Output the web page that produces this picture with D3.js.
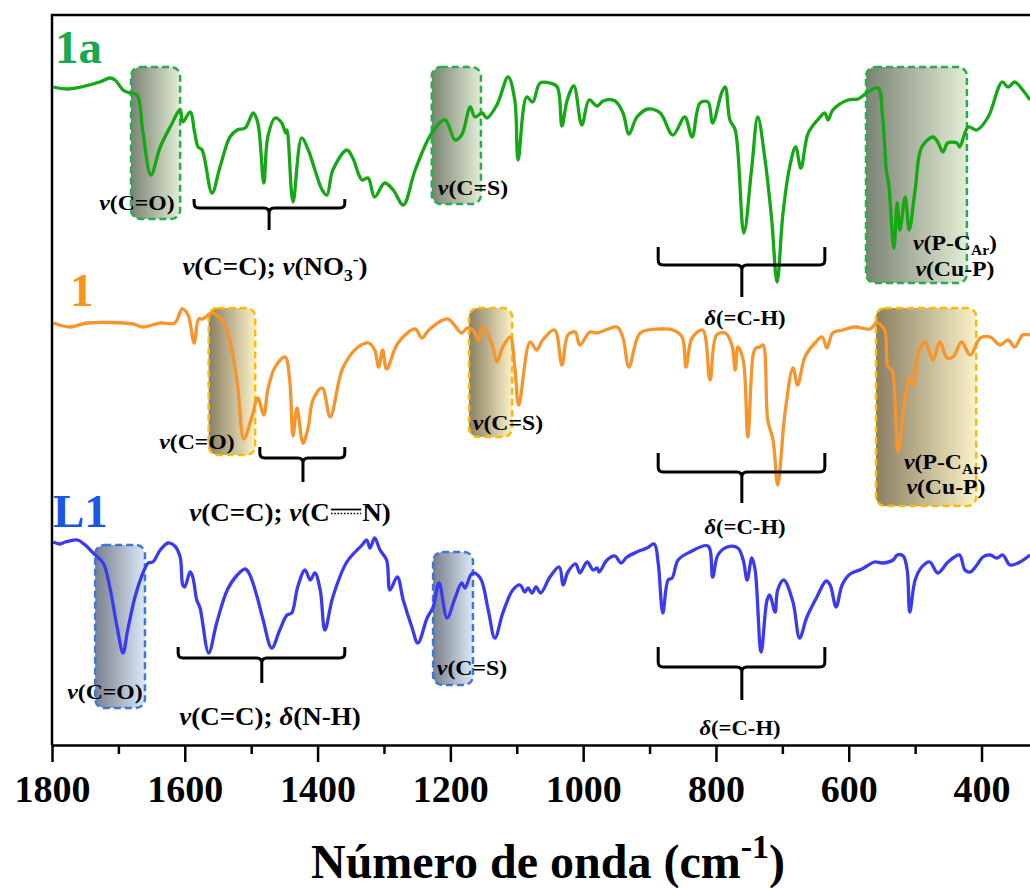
<!DOCTYPE html>
<html>
<head>
<meta charset="utf-8">
<script src="https://cdn.jsdelivr.net/npm/d3@7"></script>
<style>
  body { margin: 0; background: #fff; }
  svg { display: block; }
  .lab text { white-space: pre; }
</style>
</head>
<body>
<svg id="chart" width="1030" height="888"></svg>
<script>
// wavenumber (cm-1), transmittance offset (a.u.)
const spec1a = [
  [1798,65.8],[1776,65.6],[1728,66.3],[1713,66.7],[1705,66.5],[1693,65.5],[1683,65.2],[1672,65.0],
  [1663,61.2],[1651,57.0],[1637,59.8],[1622,61.8],[1607,63.5],[1603,62.3],[1592,63.3],[1585,61.2],
  [1580,59.8],[1574,59.5],[1559,55.2],[1547,57.8],[1532,60.8],[1521,61.5],[1509,61.7],[1497,63.2],
  [1490,62.2],[1481,56.2],[1475,60.8],[1464,62.7],[1454,62.2],[1448,61.2],[1446,61.5],[1437,54.3],
  [1424,60.7],[1414,59.5],[1404,57.5],[1393,55.5],[1386,55.0],[1377,57.5],[1356,59.5],[1347,58.7],
  [1333,56.5],[1324,56.7],[1314,54.8],[1299,56.2],[1286,55.5],[1271,54.0],[1253,57.5],[1228,61.2],
  [1208,62.5],[1193,60.5],[1183,61.0],[1170,63.8],[1163,62.8],[1152,63.2],[1145,62.7],[1130,64.0],
  [1113,66.8],[1103,64.5],[1098,58.5],[1085,64.8],[1076,64.3],[1065,66.2],[1050,66.2],[1039,65.8],
  [1032,61.9],[1024,64.5],[1014,65.9],[1002,62.0],[991,64.5],[979,63.9],[970,64.4],[952,64.4],
  [940,63.2],[931,61.1],[919,62.8],[902,63.6],[884,63.2],[865,61.0],[847,62.8],[836,60.8],
  [824,64.2],[812,64.3],[805,62.2],[791,65.3],[786,65.8],[779,62.5],[771,61.5],[758,51.2],
  [746,57.8],[737,62.8],[726,58.5],[716,52.5],[708,46.3],[699,53.2],[689,57.8],[680,59.8],
  [672,57.7],[661,61.2],[643,62.8],[636,63.2],[631,62.5],[624,63.5],[601,64.5],[586,64.6],
  [573,65.2],[556,65.7],[549,62.8],[543,57.2],[540,56.2],[532,49.7],[527,54.2],[523,51.5],
  [515,54.8],[509,51.5],[500,55.5],[490,59.8],[473,60.8],[466,60.3],[458,59.3],[451,60.2],
  [437,60.2],[433,59.8],[420,61.8],[407,61.5],[390,62.8],[369,66.3],[360,65.8],[350,66.3],
  [338,65.5],[327,64.5]
];
const spec1 = [
  [1798,42.2],[1773,41.8],[1747,42.2],[1678,42.1],[1663,41.8],[1637,42.2],[1615,42.2],[1604,43.6],
  [1595,43.0],[1586,40.2],[1579,42.6],[1573,42.6],[1559,43.2],[1547,42.7],[1535,41.2],[1521,36.2],
  [1511,30.6],[1499,32.8],[1490,34.7],[1481,33.0],[1475,35.5],[1464,37.8],[1449,38.8],[1442,36.5],
  [1437,30.9],[1431,33.7],[1422,30.2],[1414,31.8],[1407,34.5],[1393,35.7],[1381,32.8],[1362,37.7],
  [1339,39.8],[1323,40.2],[1314,39.5],[1308,37.8],[1302,39.5],[1296,37.6],[1279,40.2],[1253,41.6],
  [1243,40.7],[1231,41.6],[1204,42.6],[1183,41.2],[1175,41.7],[1166,41.5],[1158,40.5],[1151,41.8],
  [1137,40.0],[1130,38.3],[1121,39.8],[1110,40.8],[1103,37.8],[1097,34.0],[1080,40.3],[1070,39.5],
  [1061,40.5],[1043,41.5],[1032,38.0],[1023,41.0],[1012,41.3],[1005,40.0],[990,41.3],[979,41.2],
  [949,41.8],[940,40.7],[931,37.8],[914,41.2],[884,41.6],[865,41.5],[851,40.8],[845,37.8],
  [836,40.7],[820,41.5],[809,36.5],[799,41.0],[786,41.2],[776,40.0],[771,37.5],[767,39.8],
  [759,38.5],[752,30.8],[744,39.0],[740,39.7],[734,39.8],[729,40.0],[722,32.5],[714,30.5],
  [707,26.0],[696,33.2],[684,37.7],[677,36.0],[666,38.8],[651,40.2],[640,40.8],[633,39.7],
  [624,41.2],[609,41.5],[591,41.8],[568,41.6],[558,42.2],[546,41.5],[541,37.8],[535,37.5],
  [526,29.3],[518,33.2],[508,36.7],[503,36.0],[496,39.0],[485,40.3],[473,38.5],[463,40.3],
  [452,38.7],[443,38.8],[430,40.3],[417,39.0],[402,40.7],[387,40.8],[372,40.0],[360,40.5],
  [350,39.8],[338,41.0],[327,41.0]
];
const specL1 = [
  [1798,20.3],[1788,20.1],[1780,20.3],[1762,20.5],[1750,20.0],[1738,19.2],[1723,18.2],[1713,15.8],
  [1702,11.8],[1693,9.2],[1686,11.5],[1675,14.8],[1663,17.2],[1655,18.2],[1648,18.3],[1637,19.5],
  [1625,20.2],[1615,19.9],[1607,18.8],[1603,16.0],[1600,15.8],[1592,17.3],[1588,16.8],[1582,14.5],
  [1577,13.7],[1564,9.2],[1552,12.2],[1536,15.5],[1521,17.0],[1509,17.6],[1502,17.0],[1491,14.8],
  [1482,12.5],[1469,9.7],[1457,11.5],[1446,13.0],[1439,13.2],[1430,15.8],[1419,17.5],[1411,16.5],
  [1404,17.2],[1396,15.5],[1389,11.5],[1377,14.8],[1356,18.3],[1333,20.0],[1326,20.5],[1321,19.7],
  [1314,20.7],[1306,19.5],[1296,18.5],[1291,15.5],[1280,16.8],[1271,14.5],[1258,11.8],[1249,10.2],
  [1235,12.7],[1226,13.8],[1217,16.2],[1205,12.7],[1193,14.7],[1183,16.2],[1178,15.7],[1167,17.2],
  [1155,16.7],[1143,13.5],[1133,10.7],[1121,13.2],[1106,15.5],[1095,16.0],[1088,15.3],[1083,15.7],
  [1077,15.2],[1071,15.8],[1064,15.2],[1050,16.8],[1036,17.8],[1030,16.0],[1023,17.3],[1011,18.1],
  [1005,17.2],[994,18.3],[985,17.5],[979,17.7],[976,17.3],[964,18.5],[952,18.9],[943,18.2],
  [934,18.8],[919,19.3],[904,19.7],[893,20.1],[887,18.2],[880,13.2],[872,16.5],[866,16.7],
  [857,18.5],[839,19.3],[812,19.9],[805,16.8],[797,19.0],[783,19.8],[767,19.7],[759,18.5],
  [753,16.5],[746,18.7],[741,17.5],[732,9.3],[723,14.5],[719,15.0],[711,13.3],[707,15.5],
  [698,16.5],[684,14.3],[674,10.7],[663,12.8],[648,14.8],[634,16.4],[628,16.0],[619,13.8],
  [610,16.0],[598,17.1],[580,17.6],[561,18.3],[550,18.2],[533,18.5],[527,19.0],[518,18.9],
  [512,17.5],[508,13.3],[500,16.5],[490,17.8],[478,18.3],[466,17.2],[452,18.2],[443,18.7],
  [433,19.0],[425,17.5],[417,17.3],[407,18.0],[398,18.8],[387,19.0],[377,18.7],[368,19.0],
  [357,18.0],[342,18.3],[327,19.0]
];

const series = [
  { name: "1a", data: spec1a, color: "#14a814", labelColor: "#19a84c" },
  { name: "1",  data: spec1,  color: "#f7942a", labelColor: "#f7941d" },
  { name: "L1", data: specL1, color: "#3a3af2", labelColor: "#1a56e8" }
];

const majorTicks = [1800, 1600, 1400, 1200, 1000, 800, 600, 400];
const minorTicks = [1700, 1500, 1300, 1100, 900, 700, 500];

const svg = d3.select("#chart");
const W = 1030, H = 888;
const margin = { top: 15, right: 0, bottom: 143, left: 52 };
const font = "'Liberation Serif', 'Times New Roman', serif";

const x = d3.scaleLinear().domain([1800, 327]).range([margin.left, W - margin.right]);
const y = d3.scaleLinear().domain([0, 73]).range([H - margin.bottom, margin.top]);

svg.attr("font-family", font).attr("font-weight", "bold");

const defs = svg.append("defs");

// shaded band styles: [dark left, light right, dashed border]
const bandStyle = {
  g: ["#7b8473", "#e2edd6", "#22b04b"],
  o: ["#8a7f62", "#fbf1c6", "#fbbc05"],
  b: ["#78808c", "#dbe9f6", "#3d78d8"]
};
Object.entries(bandStyle).forEach(([k, c]) => {
  const lg = defs.append("linearGradient").attr("id", "grad-" + k)
    .attr("x1", "0%").attr("x2", "100%").attr("y1", "0%").attr("y2", "0%");
  lg.append("stop").attr("offset", "0%").attr("stop-color", c[0]);
  lg.append("stop").attr("offset", "100%").attr("stop-color", c[1]);
});

// bands: wavenumber from/to, pixel top/bottom
const bands = [
  { s: "g", w0: 1681, w1: 1607, top: 67, bot: 219 },
  { s: "g", w0: 1228, w1: 1154, top: 67, bot: 204 },
  { s: "g", w0: 574,  w1: 422,  top: 67, bot: 283 },
  { s: "o", w0: 1564, w1: 1494, top: 308, bot: 455 },
  { s: "o", w0: 1172, w1: 1107, top: 308, bot: 437 },
  { s: "o", w0: 559,  w1: 408,  top: 308, bot: 506 },
  { s: "b", w0: 1735, w1: 1660, top: 545, bot: 708 },
  { s: "b", w0: 1226, w1: 1166, top: 552, bot: 685 }
];

svg.append("g").selectAll("rect").data(bands).join("rect")
  .attr("x", d => x(d.w0))
  .attr("y", d => d.top)
  .attr("width", d => x(d.w1) - x(d.w0))
  .attr("height", d => d.bot - d.top)
  .attr("rx", 9)
  .attr("fill", d => `url(#grad-${d.s})`)
  .attr("stroke", d => bandStyle[d.s][2])
  .attr("stroke-width", 2.5)
  .attr("stroke-dasharray", "7 4");

// spectra
const line = d3.line()
  .x(d => x(d[0]))
  .y(d => y(d[1]))
  .curve(d3.curveCatmullRom.alpha(0.5));

svg.append("g").selectAll("path").data(series).join("path")
  .attr("d", d => line(d.data))
  .attr("fill", "none")
  .attr("stroke", d => d.color)
  .attr("stroke-width", 3.3)
  .attr("stroke-linejoin", "round");

// frame and axis
const axisG = svg.append("g").attr("transform", `translate(0,${H - margin.bottom})`);
axisG.call(d3.axisBottom(x).tickValues(minorTicks).tickSize(9).tickFormat(""))
  .call(g => g.select(".domain").remove());
axisG.append("g")
  .call(d3.axisBottom(x).tickValues(majorTicks).tickSize(17).tickSizeOuter(0).tickPadding(13)
    .tickFormat(d3.format("d")))
  .call(g => g.select(".domain").attr("stroke-width", 2.5))
  .call(g => g.selectAll("text").attr("font-size", 38).attr("font-family", font)
    .attr("font-weight", "bold").attr("fill", "#000"));
axisG.selectAll(".tick line").attr("stroke-width", 2.5);

svg.append("path")
  .attr("d", `M${x.range()[1]},${margin.top}H${margin.left}V${H - margin.bottom}`)
  .attr("fill", "none").attr("stroke", "#000").attr("stroke-width", 2.5);

// axis title
const title = svg.append("text").attr("x", 548).attr("y", 878)
  .attr("text-anchor", "middle").attr("font-size", 48).attr("fill", "#000");
title.append("tspan").text("Número de onda (cm");
title.append("tspan").attr("font-size", 34).attr("dy", -20).text("-1");
title.append("tspan").attr("dy", 20).text(")");

// series labels
const seriesLabels = [
  { t: "1a", x: 55, y: 63, c: series[0].labelColor },
  { t: "1",  x: 70, y: 306, c: series[1].labelColor },
  { t: "L1", x: 53, y: 527, c: series[2].labelColor }
];
svg.append("g").selectAll("text").data(seriesLabels).join("text")
  .attr("x", d => d.x).attr("y", d => d.y)
  .attr("font-size", 47).attr("fill", d => d.c).text(d => d.t);

// brackets: wavenumber ends, wavenumber of stem, pixel top/horizontal/stem end
const brackets = [
  { w0: 1586, w1: 1359, wm: 1473, top: 199, h: 208, end: 230 },
  { w0: 887,  w1: 636,  wm: 761,  top: 247, h: 265, end: 297 },
  { w0: 1487, w1: 1359, wm: 1422, top: 447, h: 458, end: 482 },
  { w0: 887,  w1: 636,  wm: 761,  top: 453, h: 472, end: 503 },
  { w0: 1610, w1: 1359, wm: 1484, top: 647, h: 658, end: 683 },
  { w0: 887,  w1: 636,  wm: 761,  top: 647, h: 667, end: 700 }
];
svg.append("g").selectAll("path").data(brackets).join("path")
  .attr("d", d => {
    const a = x(d.w0), b = x(d.w1), m = x(d.wm), r = 5;
    return `M${a},${d.top}V${d.h - r}Q${a},${d.h} ${a + r},${d.h}H${m - r}Q${m},${d.h} ${m},${d.h + r}V${d.end}` +
      `M${m},${d.h + r}Q${m},${d.h} ${m + r},${d.h}H${b - r}Q${b},${d.h} ${b},${d.h - r}V${d.top}`;
  })
  .attr("fill", "none").attr("stroke", "#000").attr("stroke-width", 3);

// rich text labels built from parts
const nu = { t: "ν", it: true };
const de = { t: "δ", it: true };
const labels = [
  { x: 137, y: 210, fs: 22, parts: [nu, { t: "(C=O)" }] },
  { x: 473, y: 195, fs: 22, parts: [nu, { t: "(C=S)" }] },
  { x: 275, y: 275, fs: 25, parts: [nu, { t: "(C=C); " }, nu, { t: "(NO" }, { t: "3", sub: true }, { t: "-", sup: true }, { t: ")" }] },
  { x: 955, y: 250, fs: 22, parts: [nu, { t: "(P-C" }, { t: "Ar", sub: true }, { t: ")" }] },
  { x: 955, y: 276, fs: 22, parts: [nu, { t: "(Cu-P)" }] },
  { x: 745, y: 325, fs: 21, parts: [de, { t: "(=C-H)" }] },

  { x: 197, y: 449, fs: 22, parts: [nu, { t: "(C=O)" }] },
  { x: 508, y: 430, fs: 22, parts: [nu, { t: "(C=S)" }] },
  { x: 290, y: 521, fs: 25, parts: [nu, { t: "(C=C); " }, nu, { t: "(C" }, { gap: 30 }, { t: "N)" }] },
  { x: 946, y: 469, fs: 22, parts: [nu, { t: "(P-C" }, { t: "Ar", sub: true }, { t: ")" }] },
  { x: 946, y: 494, fs: 22, parts: [nu, { t: "(Cu-P)" }] },
  { x: 745, y: 534, fs: 21, parts: [de, { t: "(=C-H)" }] },

  { x: 105, y: 699, fs: 22, parts: [nu, { t: "(C=O)" }] },
  { x: 472, y: 675, fs: 22, parts: [nu, { t: "(C=S)" }] },
  { x: 270, y: 725, fs: 25, parts: [nu, { t: "(C=C); " }, de, { t: "(N-H)" }] },
  { x: 740, y: 735, fs: 21, parts: [de, { t: "(=C-H)" }] }
];

const sx = 1.08; // the source face is a little wider than Liberation Serif
const labelG = svg.append("g").attr("class", "lab").attr("fill", "#000");
labels.forEach(l => {
  const g = labelG.append("g");
  let cx = 0;
  l.parts.forEach(p => {
    if (p.gap) {
      const x0 = cx + 1, x1 = cx + p.gap - 1;
      g.append("line").attr("x1", x0).attr("x2", x1)
        .attr("y1", -l.fs * 0.46).attr("y2", -l.fs * 0.46)
        .attr("stroke", "#000").attr("stroke-width", 1.8);
      g.append("line").attr("x1", x0).attr("x2", x1)
        .attr("y1", -l.fs * 0.3).attr("y2", -l.fs * 0.3)
        .attr("stroke", "#000").attr("stroke-width", 1.3).attr("stroke-dasharray", "1.5 1.5");
      cx += p.gap;
      return;
    }
    const small = p.sub || p.sup;
    const t = g.append("text")
      .attr("xml:space", "preserve")
      .attr("x", cx)
      .attr("y", p.sub ? l.fs * 0.22 : p.sup ? -l.fs * 0.42 : 0)
      .attr("font-size", small ? l.fs * 0.65 : l.fs)
      .attr("font-style", p.it ? "italic" : "normal")
      .text(p.t);
    cx += t.node().getComputedTextLength();
  });
  g.attr("transform", `translate(${l.x - cx * sx / 2},${l.y}) scale(${sx},1)`);
});
</script>
</body>
</html>
